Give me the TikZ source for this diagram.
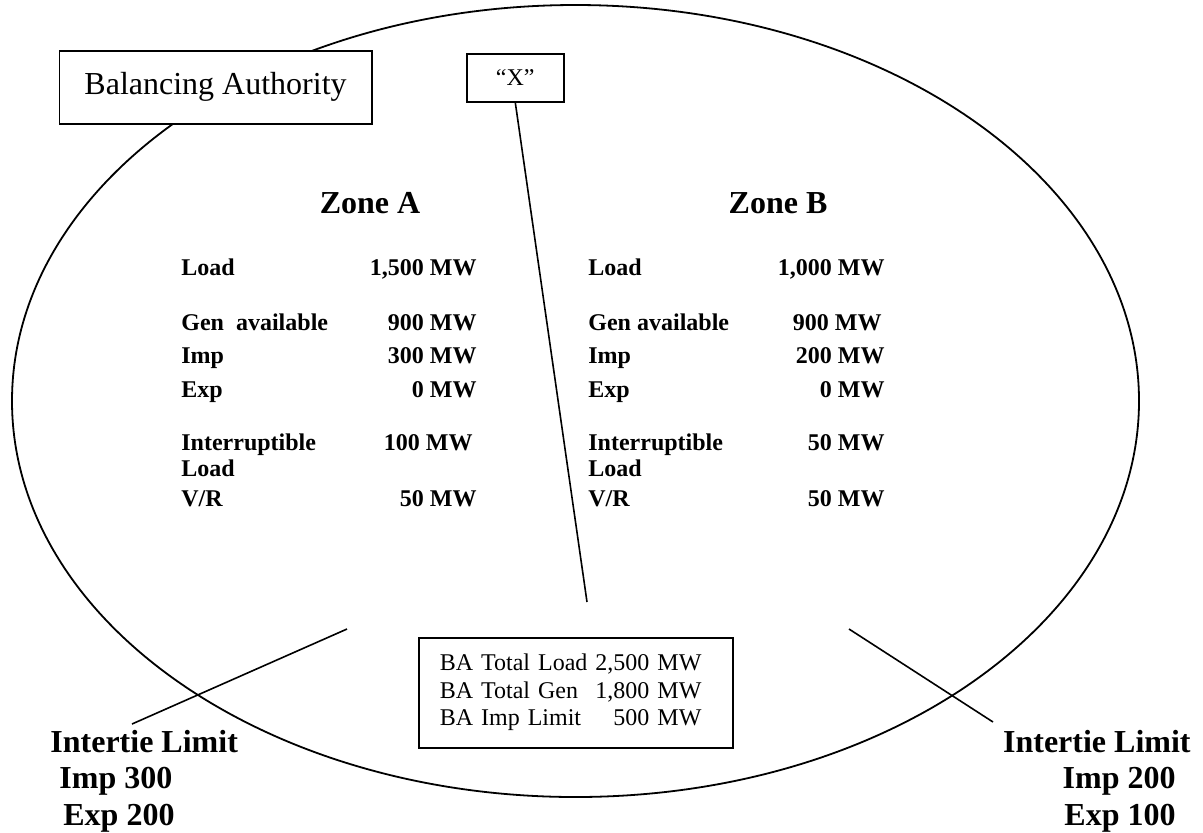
\documentclass[tikz,border=0pt]{standalone}
\usepackage{fontspec}
\setmainfont{Liberation Serif}
\usepackage{tikz}
\usetikzlibrary{positioning}
\newcommand{\twelve}{\fontsize{12}{13.75}\selectfont}
\newcommand{\sixteen}{\fontsize{16}{18.5}\selectfont}
\tikzset{
  boxnode/.style={draw, line width=0.8pt, inner sep=0pt},
  zonelbl/.style={font=\sixteen\bfseries, anchor=base},
  rowlbl/.style={font=\twelve\bfseries, anchor=base west, inner sep=0pt},
  rowval/.style={font=\twelve\bfseries, anchor=base east, inner sep=0pt},
  limitlbl/.style={font=\sixteen\bfseries, inner sep=0pt},
  tieline/.style={line width=0.8pt}
}

\begin{document}
\begin{tikzpicture}[x=0.5pt, y=-0.5pt]
\useasboundingbox (0,0) rectangle (1203,832);
% balancing authority outline
\draw[line width=0.9pt] (575.5,401) ellipse [x radius=281.75pt, y radius=198pt];

\node[boxnode, fill=white, anchor=north west, minimum width=156.25pt, minimum height=36.5pt,
      font=\sixteen] (baname) at (58.5,50) {Balancing Authority};
\node[boxnode, fill=white, anchor=north west, minimum width=48.5pt, minimum height=24pt,
      font=\twelve] (xbox) at (466,53) {“X”};

\node[zonelbl] (zonea) at (370,213) {Zone A};
\node[zonelbl] (zoneb) at (778,213) {Zone B};

% zone A
\node[rowlbl] (aload) at (181,275) {Load};
\node[rowval] (aloadv) at (477,275) {1,500 MW};
\node[rowlbl] (agen) at (181,330) {Gen\ \ available};
\node[rowval] (agenv) at (477,330) {900 MW};
\node[rowlbl] (aimp) at (181,363) {Imp};
\node[rowval] (aimpv) at (477,363) {300 MW};
\node[rowlbl] (aexp) at (181,397) {Exp};
\node[rowval] (aexpv) at (477,397) {0 MW};
\node[rowlbl] (aint) at (181,450) {Interruptible};
\node[rowlbl] (aintb) at (181,476) {Load};
\node[rowval] (aintv) at (473,450) {100 MW};
\node[rowlbl] (avr) at (181,506) {V/R};
\node[rowval] (avrv) at (477,506) {50 MW};

% zone B
\node[rowlbl] (bload) at (588,275) {Load};
\node[rowval] (bloadv) at (885,275) {1,000 MW};
\node[rowlbl] (bgen) at (588,330) {Gen available};
\node[rowval] (bgenv) at (882,330) {900 MW};
\node[rowlbl] (bimp) at (588,363) {Imp};
\node[rowval] (bimpv) at (885,363) {200 MW};
\node[rowlbl] (bexp) at (588,397) {Exp};
\node[rowval] (bexpv) at (885,397) {0 MW};
\node[rowlbl] (bint) at (588,450) {Interruptible};
\node[rowlbl] (bintb) at (588,476) {Load};
\node[rowval] (bintv) at (885,450) {50 MW};
\node[rowlbl] (bvr) at (588,506) {V/R};
\node[rowval] (bvrv) at (885,506) {50 MW};

% totals
\node[boxnode, anchor=north west, inner xsep=10.5pt, text width=136pt, minimum height=55pt,
      align=left, font=\twelve] (batotal) at (418,637)
  {\begin{tabular}{@{}l@{ }r@{}}BA Total Load & 2,500 MW\\ BA Total Gen & 1,800 MW\\ BA Imp Limit & 500 MW\end{tabular}};

% intertie limits
\node[limitlbl, anchor=base west] (tieahead) at (50,752) {Intertie Limit};
\node[limitlbl, anchor=base west] (tieaimp) at (59,788) {Imp 300};
\node[limitlbl, anchor=base west] (tieaexp) at (63,825) {Exp 200};
\node[limitlbl, anchor=base east] (tiebhead) at (1191,752) {Intertie Limit};
\node[limitlbl, anchor=base east] (tiebimp) at (1176,788) {Imp 200};
\node[limitlbl, anchor=base east] (tiebexp) at (1176,825) {Exp 100};

\coordinate (xend) at (587,602);
\coordinate (tiea1) at (132,724);
\coordinate (tiea2) at (347,629);
\coordinate (tieb1) at (849,629);
\coordinate (tieb2) at (993,722);
\draw[tieline] (xbox.south) -- (xend);
\draw[tieline] (tiea1) -- (tiea2);
\draw[tieline] (tieb1) -- (tieb2);
\end{tikzpicture}
\end{document}
